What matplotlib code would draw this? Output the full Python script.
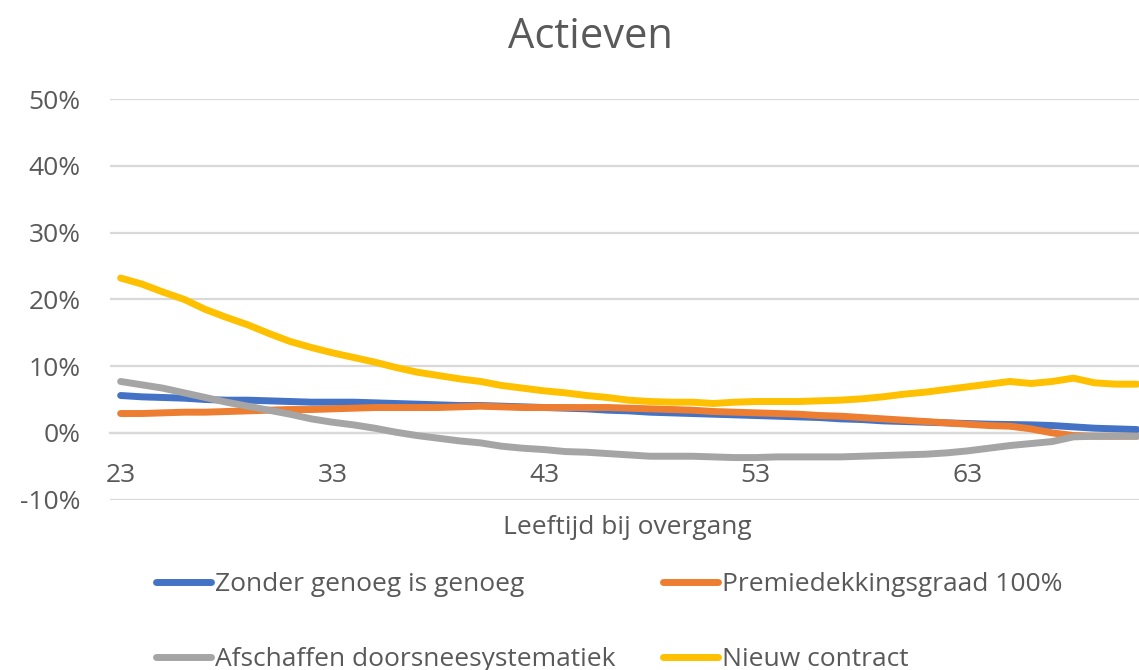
import matplotlib
matplotlib.use("Agg")
import matplotlib.pyplot as plt
from matplotlib.lines import Line2D
from matplotlib.ticker import FuncFormatter, MultipleLocator

plt.rcParams["font.family"] = ["Open Sans", "DejaVu Sans"]

# leeftijd bij overgang
ages = list(range(23, 72))

# effect in procenten per scenario
zonder_genoeg = [
    5.6, 5.4, 5.3, 5.2, 5.0, 4.9, 4.9, 4.8, 4.7, 4.6,
    4.6, 4.6, 4.5, 4.4, 4.3, 4.2, 4.1, 4.1, 4.0, 3.9,
    3.8, 3.7, 3.6, 3.4, 3.3, 3.1, 3.0, 2.9, 2.8, 2.7,
    2.6, 2.5, 2.4, 2.3, 2.1, 2.0, 1.8, 1.7, 1.6, 1.5,
    1.4, 1.3, 1.25, 1.2, 1.1, 0.9, 0.7, 0.6, 0.5,
]
premiedekking = [
    2.9, 2.9, 3.0, 3.1, 3.1, 3.2, 3.3, 3.4, 3.5, 3.5,
    3.6, 3.7, 3.8, 3.8, 3.8, 3.8, 3.9, 4.0, 3.9, 3.8,
    3.8, 3.8, 3.8, 3.8, 3.7, 3.6, 3.5, 3.4, 3.2, 3.1,
    3.0, 2.9, 2.8, 2.6, 2.5, 2.3, 2.1, 1.9, 1.7, 1.5,
    1.3, 1.1, 1.0, 0.6, 0.0, -0.4, -0.5, -0.5, -0.5,
]
afschaffen = [
    7.7, 7.2, 6.7, 6.0, 5.3, 4.6, 4.0, 3.4, 2.8, 2.1,
    1.6, 1.2, 0.7, 0.1, -0.4, -0.8, -1.2, -1.5, -2.0, -2.3,
    -2.5, -2.8, -2.9, -3.1, -3.3, -3.5, -3.5, -3.5, -3.6, -3.7,
    -3.7, -3.6, -3.6, -3.6, -3.6, -3.5, -3.4, -3.3, -3.2, -3.0,
    -2.7, -2.3, -1.9, -1.6, -1.3, -0.6, -0.5, -0.5, -0.5,
]
nieuw_contract = [
    23.2, 22.3, 21.1, 20.0, 18.5, 17.3, 16.2, 14.9, 13.7, 12.8,
    12.0, 11.3, 10.6, 9.8, 9.1, 8.6, 8.1, 7.7, 7.1, 6.7,
    6.3, 6.0, 5.6, 5.3, 4.9, 4.7, 4.6, 4.6, 4.4, 4.6,
    4.7, 4.7, 4.7, 4.8, 4.9, 5.1, 5.4, 5.8, 6.1, 6.5,
    6.9, 7.3, 7.7, 7.4, 7.7, 8.2, 7.5, 7.3, 7.3,
]

series = [
    ("Zonder genoeg is genoeg", zonder_genoeg, "#4472C4"),
    ("Premiedekkingsgraad 100%", premiedekking, "#ED7D31"),
    ("Afschaffen doorsneesystematiek", afschaffen, "#A5A5A5"),
    ("Nieuw contract", nieuw_contract, "#FFC000"),
]

text_color = "#595959"
grid_color = "#D9D9D9"

fig = plt.figure(figsize=(11.39, 6.70), dpi=100)
ax = fig.add_axes([0.0966, 0.2543, 0.9034, 0.5977])

handles = {}
for label, values, color in series:
    (ln,) = ax.plot(ages, values, color=color, linewidth=5.0,
                    solid_capstyle="round", solid_joinstyle="round", label=label)
    handles[label] = ln

ax.set_xlim(22.5, 71.1)
ax.set_ylim(-10, 50)
ax.yaxis.set_major_locator(MultipleLocator(10))
ax.yaxis.set_major_formatter(FuncFormatter(lambda v, _: f"{v:.0f}%"))
ax.set_xticks([23, 33, 43, 53, 63])

ax.grid(axis="y", color=grid_color, linewidth=1.6)
ax.set_axisbelow(True)
for side in ["top", "right", "left"]:
    ax.spines[side].set_visible(False)
ax.spines["bottom"].set_position(("data", 0))
ax.spines["bottom"].set_color(grid_color)
ax.spines["bottom"].set_linewidth(1.6)
ax.spines["bottom"].set_zorder(0.5)

ax.tick_params(axis="y", length=0, pad=21, labelsize=19, labelcolor=text_color)
ax.tick_params(axis="x", length=0, pad=22, labelsize=19, labelcolor=text_color)

fig.text(0.518, 0.945, "Actieven", ha="center", va="center",
         fontsize=30, color=text_color)
fig.text(0.551, 0.212, "Leeftijd bij overgang", ha="center", va="center",
         fontsize=19, color=text_color)

order = ["Zonder genoeg is genoeg", "Afschaffen doorsneesystematiek",
         "Premiedekkingsgraad 100%", "Nieuw contract"]
leg_handles = [Line2D([], [], color=handles[k].get_color(), linewidth=5.0,
                      solid_capstyle="round") for k in order]
leg = fig.legend(leg_handles, order, ncol=2, loc="upper left",
                 bbox_to_anchor=(0.1374, 0.146), frameon=False,
                 fontsize=19, handlelength=2.08, handletextpad=0.15,
                 columnspacing=1.8, labelspacing=1.9, borderaxespad=0,
                 borderpad=0)
for t in leg.get_texts():
    t.set_color(text_color)

fig.savefig("out.png", dpi=100)
